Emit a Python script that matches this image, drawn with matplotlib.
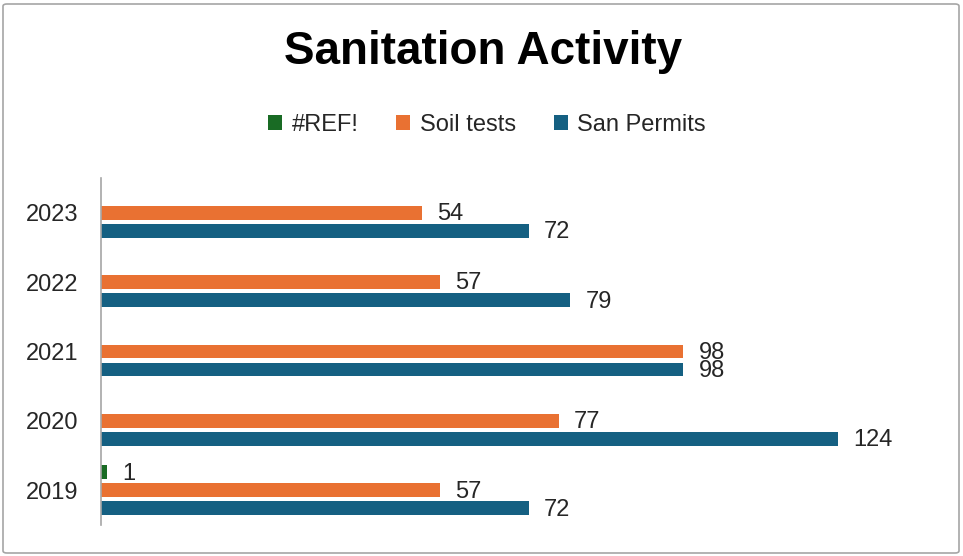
import matplotlib
matplotlib.use("Agg")
import matplotlib.pyplot as plt
from matplotlib.patches import FancyBboxPatch
import numpy as np

years = ['2019', '2020', '2021', '2022', '2023']
ref_vals = [1, None, None, None, None]
soil_vals = [57, 77, 98, 57, 54]
san_vals = [72, 124, 98, 79, 72]
series_names = ['#REF!', 'Soil tests', 'San Permits']
colors = ['#196B24', '#E97132', '#156082']

plt.rcParams['font.family'] = ['Liberation Sans', 'DejaVu Sans']

fig = plt.figure(figsize=(9.63, 5.56), dpi=100)
fig.patch.set_facecolor('white')
border = FancyBboxPatch((3/963, 3/556), 956/963, 549/556,
                        boxstyle="round,pad=0,rounding_size=0.004",
                        transform=fig.transFigure, facecolor='none',
                        edgecolor='#a6a6a6', linewidth=1.2)
fig.patches.append(border)

ax = fig.add_axes([101/963, 31/556, (933-101)/963, (525-178)/556])

idx = np.arange(len(years))
offsets = [0.26, 0.0, -0.26]
h = 0.2
all_series = [ref_vals, soil_vals, san_vals]
handles = []
for s, (vals, off, col, name) in enumerate(zip(all_series, offsets, colors, series_names)):
    ys = [i + off for i, v in zip(idx, vals) if v is not None]
    xs = [v for v in vals if v is not None]
    b = ax.barh(ys, xs, height=h, color=col, label=name)
    handles.append(b)
    for yy, xx in zip(ys, xs):
        ax.annotate(str(xx), (xx, yy), xytext=(11, -1), textcoords='offset points',
                    ha='left', va='center', fontsize=17, color='#262626')

ax.set_xlim(0, 140)
ax.set_ylim(-0.5, 4.5)
ax.set_yticks(idx)
ax.set_yticklabels(years, fontsize=17, color='#262626')
ax.set_xticks([])
for sp in ['top', 'right', 'bottom']:
    ax.spines[sp].set_visible(False)
ax.spines['left'].set_color('#a6a6a6')
ax.spines['left'].set_linewidth(1.2)
ax.tick_params(axis='y', length=0, pad=16)

fig.text(483/963, 1 - 52/556, 'Sanitation Activity', ha='center', va='center',
         fontsize=33, fontweight='bold', color='black')

leg = fig.legend(handles=handles, labels=series_names, loc='center', ncol=3,
                 bbox_to_anchor=(487/963, 1 - 125/556), frameon=False,
                 fontsize=17, handlelength=0.6, handleheight=0.6,
                 handletextpad=0.4, columnspacing=1.6, labelcolor='#262626')

fig.savefig('out.png', dpi=100, facecolor='white')
